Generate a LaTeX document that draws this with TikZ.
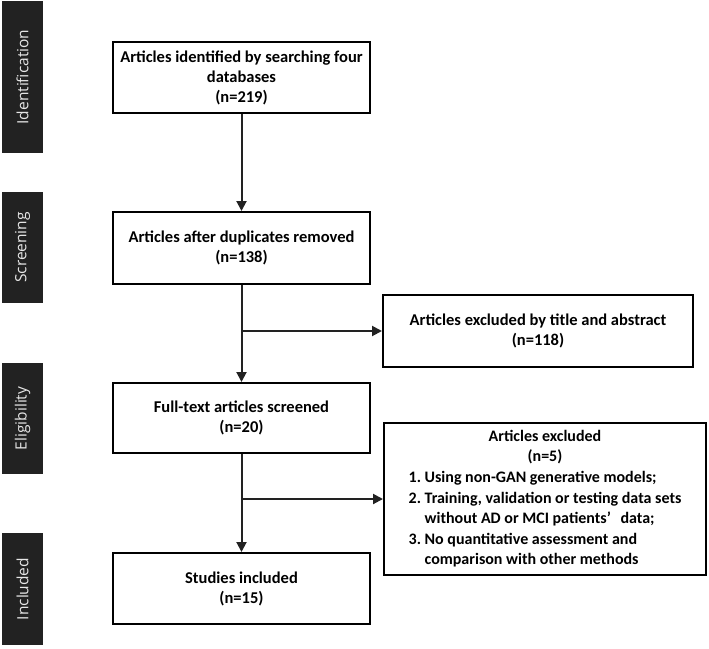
\documentclass[tikz,border=0pt]{standalone}
\usepackage{fontspec}
\setmainfont{Carlito}
\newfontfamily\sidefont{Open Sans}
\usetikzlibrary{arrows.meta}
\definecolor{sidegray}{HTML}{222222}
\definecolor{sidetext}{HTML}{E6E6E6}
\definecolor{conncol}{HTML}{222222}
\begin{document}
\begin{tikzpicture}[x=1pt,y=-1pt,
  box/.style={draw=black, line width=2pt, minimum width=257pt, minimum height=71pt,
    inner sep=0pt, align=center, font=\fontsize{16.5}{20}\selectfont\bfseries},
  side/.style={fill=sidegray, rotate=90, minimum height=41pt, inner sep=0pt,
    text=sidetext, font=\sidefont\fontsize{15.5}{17}\selectfont},
  conn/.style={draw=conncol, line width=2pt, -{Triangle[length=10pt,width=10pt]}}]
\useasboundingbox (0,0) rectangle (709,648);
% side bars
\node[side, minimum width=152pt] (s1) at (22.5,77) {Identification};
\node[side, minimum width=111pt] (s2) at (22.5,247.5) {Screening};
\node[side, minimum width=111pt] (s3) at (22.5,418.5) {Eligibility};
\node[side, minimum width=112pt] (s4) at (22.5,589) {Included};
% main boxes
\node[box] (b1) at (241.5,77.5) {Articles identified by searching four\\databases\\(n=219)};
\node[box, minimum height=72pt] (b2) at (241.5,248) {Articles after duplicates removed\\(n=138)};
\node[box, minimum height=70pt] (b3) at (241.5,418) {Full-text articles screened\\(n=20)};
\node[box] (b4) at (241.5,588.5) {Studies included\\(n=15)};
% exclusion boxes
\node[box, minimum width=310pt, minimum height=72pt] (e1) at (538,331) {Articles excluded by title and abstract\\(n=118)};
\node[box, minimum width=322pt, minimum height=152pt, align=left, font=\fontsize{16}{20.6}\selectfont\bfseries] (e2) at (545,499) {%
  \begin{tabular}{@{}l@{\ }l@{}}
  \multicolumn{2}{@{}c@{}}{Articles excluded}\\
  \multicolumn{2}{@{}c@{}}{(n=5)}\\
  1. & Using non-GAN generative models;\\
  2. & Training, validation or testing data sets\\
     & without AD or MCI patients’\hspace{0.6em}data;\\
  3. & No quantitative assessment and\\
     & comparison with other methods
  \end{tabular}};
% connectors
\draw[conn] (b1.south) -- (b2.north);
\draw[conn] (b2.south) -- (b3.north);
\draw[conn] (b3.south) -- (b4.north);
\coordinate (j1) at (b2.south |- e1.west);
\coordinate (j2) at (b3.south |- e2.west);
\draw[conn] (j1) -- (e1.west);
\draw[conn] (j2) -- (e2.west);
\end{tikzpicture}
\end{document}
